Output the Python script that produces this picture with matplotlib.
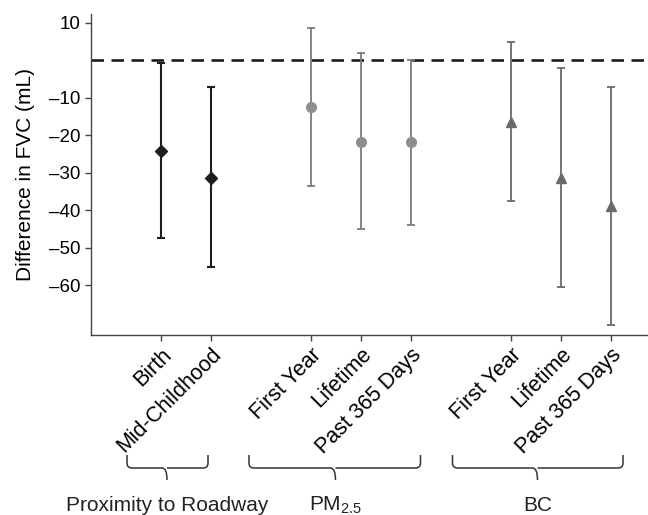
import numpy as np
import matplotlib
matplotlib.use('Agg')
import matplotlib.pyplot as plt
from matplotlib.path import Path
from matplotlib.patches import PathPatch
import matplotlib.transforms as mtransforms

plt.rcParams['font.family'] = ['Liberation Sans', 'DejaVu Sans']
plt.rcParams['mathtext.fontset'] = 'custom'
plt.rcParams['mathtext.rm'] = 'Liberation Sans'
plt.rcParams['mathtext.it'] = 'Liberation Sans'

# 数据：估计值与95%置信区间
labels = ['Birth', 'Mid-Childhood',
          'First Year', 'Lifetime', 'Past 365 Days',
          'First Year', 'Lifetime', 'Past 365 Days']
positions = [0, 1, 3, 4, 5, 7, 8, 9]
estimate = [-24.2, -31.3, -12.5, -21.9, -21.9, -16.5, -31.3, -38.8]
upper = [-0.8, -7.2, 8.7, 1.9, 0.1, 5.0, -1.9, -7.0]
lower = [-47.3, -55.1, -33.5, -45.1, -43.8, -37.5, -60.4, -70.5]
groups = ['Proximity to Roadway', 'PM$_{2.5}$', 'BC']
group_idx = [0, 0, 1, 1, 1, 2, 2, 2]
yticks = [10, -10, -20, -30, -40, -50, -60]
ytick_labels = ['10', '–10', '–20', '–30', '–40', '–50', '–60']

markers = ['D', 'o', '^']
bar_colors = ['#1e1e1e', '#7c7c7c', '#6a6a6a']
pt_colors = ['#1e1e1e', '#8e8e8e', '#6a6a6a']
bar_lw = [1.5, 1.3, 1.3]
msizes = [6.5, 7, 7.5]

fig = plt.figure(figsize=(6.48, 5.15), dpi=100)
ax = fig.add_axes([90.7 / 648, 1 - 335 / 515, 1 - 90.7 / 648, 321 / 515])

for p, e, u, l, g in zip(positions, estimate, upper, lower, group_idx):
    ax.errorbar(p, e, yerr=[[e - l], [u - e]], fmt='none',
                ecolor=bar_colors[g], elinewidth=bar_lw[g], capsize=3,
                capthick=bar_lw[g], zorder=2)
    ax.plot(p, e, marker=markers[g], color=pt_colors[g], ms=msizes[g],
            linestyle='none', zorder=3)

ax.axhline(0, color='#111111', lw=1.8, linestyle=(0, (5, 3)), zorder=1)

ax.set_xlim(-1.406, 9.74)
ax.set_ylim(-73.3, 12.4)
ax.set_yticks(yticks)
ax.set_yticklabels(ytick_labels)
ax.set_xticks(positions)
ax.set_xticklabels(labels, rotation=45, ha='right', va='top',
                   rotation_mode='anchor')
ax.tick_params(axis='both', direction='out', length=4.5, width=1,
               color='#444444')
ax.tick_params(axis='y', labelsize=13.5, pad=3)
ax.tick_params(axis='x', labelsize=15.5, pad=2)
for s in ['top', 'right']:
    ax.spines[s].set_visible(False)
for s in ['left', 'bottom']:
    ax.spines[s].set_color('#444444')
    ax.spines[s].set_linewidth(1)
ax.set_ylabel('Difference in FVC (mL)', fontsize=15, labelpad=10)

# 分组括号
trans = mtransforms.blended_transform_factory(ax.transData, fig.transFigure)
brace_x = [(-0.68, 0.94, 0.12), (1.76, 5.19, 3.49), (5.83, 9.24, 7.53)]
top, mid, tip = 1 - 455 / 515, 1 - 468 / 515, 1 - 480 / 515
rx, ry = 0.1, 5 / 515
for (x0, x1, xc), name in zip(brace_x, groups):
    verts = [(x0, top), (x0, mid + ry), (x0, mid), (x0 + rx, mid),
             (xc - rx, mid), (xc, mid), (xc, tip),
             (xc, mid), (xc + rx, mid),
             (x1 - rx, mid), (x1, mid), (x1, mid + ry), (x1, top)]
    codes = [Path.MOVETO, Path.LINETO, Path.CURVE3, Path.CURVE3,
             Path.LINETO, Path.CURVE3, Path.CURVE3,
             Path.MOVETO, Path.LINETO,
             Path.LINETO, Path.CURVE3, Path.CURVE3, Path.LINETO]
    ax.add_patch(PathPatch(Path(verts, codes), transform=trans, fill=False,
                           lw=1.1, edgecolor='#333333', clip_on=False))
    fig.text(0, 1 - 511 / 515, name, transform=trans, ha='center',
             va='baseline', fontsize=15, color='#222222')
    fig.texts[-1].set_x(xc)

fig.savefig('out.png', dpi=100)
